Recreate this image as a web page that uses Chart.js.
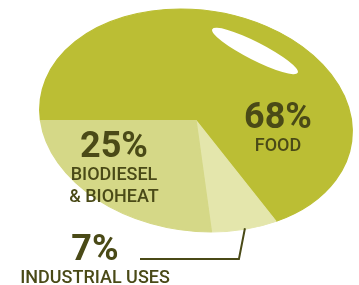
<!DOCTYPE html>
<html>
<head>
<meta charset="utf-8">
<script src="https://cdn.jsdelivr.net/npm/chart.js@4"></script>
<style>
  html, body { margin: 0; padding: 0; background: #fff; }
  canvas { display: block; }
</style>
</head>
<body>
<canvas id="pieChart" width="359" height="285"></canvas>
<script>
// slices in clockwise order, starting from the 9 o'clock edge
const categories = ["Food", "Industrial uses", "Biodiesel & Bioheat"];
const shares = [68, 7, 25];
const nameLines = [["FOOD"], ["INDUSTRIAL USES"], ["BIODIESEL", "& BIOHEAT"]];
const sliceColors = ["#bbbe34", "#e4e6ac", "#d5d887"];

// where the percent text sits (baseline, centre)
const labelSpots = [{ x: 278, y: 128 }, { x: 95, y: 260 }, { x: 114, y: 157 }];

const textColor = "#4a4a17";
const stretch = 157 / 110.4;          // pie is drawn as a tilted ellipse
const tilt = 8 * Math.PI / 180;

function toScreen(cx, cy, dx, dy) {
  const sx = dx * stretch;
  return {
    x: cx + sx * Math.cos(tilt) - dy * Math.sin(tilt),
    y: cy + sx * Math.sin(tilt) + dy * Math.cos(tilt)
  };
}

const ellipseSkew = {
  id: "ellipseSkew",
  beforeDatasetsDraw(chart) {
    const arc = chart.getDatasetMeta(0).data[0];
    const ctx = chart.ctx;
    ctx.save();
    ctx.translate(arc.x, arc.y);
    ctx.rotate(tilt);
    ctx.scale(stretch, 1);
    ctx.translate(-arc.x, -arc.y);
  },
  afterDatasetsDraw(chart) {
    chart.ctx.restore();
  }
};

const decorations = {
  id: "decorations",
  afterDraw(chart) {
    const ctx = chart.ctx;
    const arcs = chart.getDatasetMeta(0).data;
    const cx = arcs[0].x, cy = arcs[0].y;

    // shine
    ctx.save();
    ctx.fillStyle = "#ffffff";
    ctx.beginPath();
    ctx.ellipse(cx + 59, cy - 69.5, 48, 9, 27 * Math.PI / 180, 0, Math.PI * 2);
    ctx.fill();
    ctx.restore();

    // leader from the small slice to its label
    const small = arcs[1];
    const mid = (small.startAngle + small.endAngle) / 2;
    const r = small.outerRadius;
    const p = toScreen(cx, cy, Math.cos(mid) * r, Math.sin(mid) * r);
    ctx.save();
    ctx.strokeStyle = textColor;
    ctx.lineWidth = 2;
    ctx.beginPath();
    ctx.moveTo(p.x, p.y - 1);
    ctx.lineTo(p.x - 6, 259);
    ctx.lineTo(140, 259);
    ctx.stroke();
    ctx.restore();

    // labels
    ctx.save();
    ctx.fillStyle = textColor;
    ctx.textAlign = "center";
    ctx.textBaseline = "alphabetic";
    shares.forEach((v, i) => {
      const spot = labelSpots[i];
      ctx.font = "bold 36px Roboto";
      ctx.fillText(v + "%", spot.x, spot.y);
      ctx.font = "500 18px Roboto";
      nameLines[i].forEach((line, j) => {
        ctx.fillText(line, spot.x, spot.y + 23 + j * 22);
      });
    });
    ctx.restore();
  }
};

new Chart(document.getElementById("pieChart").getContext("2d"), {
  type: "pie",
  data: {
    labels: categories,
    datasets: [{
      data: shares,
      backgroundColor: sliceColors,
      borderColor: sliceColors,
      borderWidth: 1,
      hoverOffset: 0,
      offset: 0
    }]
  },
  options: {
    responsive: false,
    animation: false,
    events: [],
    rotation: 258.7,
    radius: 110.4,
    layout: { padding: { left: 40, right: 7, top: 10, bottom: 54 } },
    plugins: {
      legend: { display: false },
      tooltip: { enabled: false }
    }
  },
  plugins: [ellipseSkew, decorations]
});
</script>
</body>
</html>
